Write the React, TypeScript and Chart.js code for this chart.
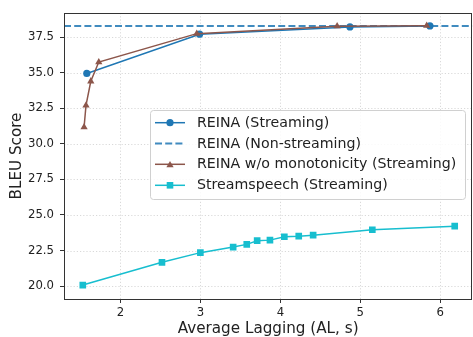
import React, { useEffect, useRef } from "react";
import { Chart, registerables } from "chart.js";

Chart.register(...registerables);

// ---- data ----
const X_TICKS = [2, 3, 4, 5, 6];
const Y_TICKS = [20, 22.5, 25, 27.5, 30, 32.5, 35, 37.5];
const X_MIN = 1.295;
const X_MAX = 6.4;
const Y_MIN = 19.09;
const Y_MAX = 39.2;

const REINA_AL = [1.58, 2.99, 4.87, 5.87];
const REINA_BLEU = [34.95, 37.71, 38.22, 38.29];

const NONSTREAM_BLEU = 38.29;

const NOMONO_AL = [1.546, 1.57, 1.63, 1.73, 2.955, 4.71, 5.83];
const NOMONO_BLEU = [31.17, 32.7, 34.4, 35.75, 37.75, 38.27, 38.31];

const STREAM_AL = [1.53, 2.52, 3.0, 3.41, 3.58, 3.71, 3.87, 4.05, 4.23, 4.41, 5.15, 6.18];
const STREAM_BLEU = [20.07, 21.67, 22.35, 22.74, 22.93, 23.19, 23.23, 23.47, 23.51, 23.58, 23.96, 24.21];

const LABELS = [
  "REINA (Streaming)",
  "REINA (Non-streaming)",
  "REINA w/o monotonicity (Streaming)",
  "Streamspeech (Streaming)",
];
const X_TITLE = "Average Lagging (AL, s)";
const Y_TITLE = "BLEU Score";

const BLUE = "#1f77b4";
const DASH_BLUE = "rgba(31,119,180,0.85)";
const BROWN = "#8c564b";
const CYAN = "#17becf";
const FONT = "'DejaVu Sans', sans-serif";
const TEXT = "#222222";

const zip = (xs: number[], ys: number[]) => xs.map((x, i) => ({ x, y: ys[i] }));

function drawMarker(ctx: CanvasRenderingContext2D, kind: string, x: number, y: number, color: string) {
  ctx.save();
  ctx.fillStyle = color;
  ctx.beginPath();
  if (kind === "circle") {
    ctx.arc(x, y, 3.6, 0, Math.PI * 2);
  } else if (kind === "rect") {
    ctx.rect(x - 3.3, y - 3.3, 6.6, 6.6);
  } else if (kind === "triangle") {
    const r = 4.2;
    for (let k = 0; k < 3; k++) {
      const a = (k * 2 * Math.PI) / 3;
      const px = x + Math.sin(a) * r;
      const py = y - Math.cos(a) * r + 0.8;
      if (k === 0) ctx.moveTo(px, py);
      else ctx.lineTo(px, py);
    }
    ctx.closePath();
  }
  ctx.fill();
  ctx.restore();
}

const decorPlugin = {
  id: "decor",
  beforeDatasetsDraw(chart: any) {
    const { ctx, chartArea, scales } = chart;
    const { left, right, top, bottom } = chartArea;
    ctx.save();
    ctx.strokeStyle = "#cfcfcf";
    ctx.lineWidth = 0.8;
    ctx.setLineDash([1.2, 2]);
    X_TICKS.forEach((v) => {
      const px = Math.round(scales.x.getPixelForValue(v)) + 0.5;
      ctx.beginPath();
      ctx.moveTo(px, top);
      ctx.lineTo(px, bottom);
      ctx.stroke();
    });
    Y_TICKS.forEach((v) => {
      const py = Math.round(scales.y.getPixelForValue(v)) + 0.5;
      ctx.beginPath();
      ctx.moveTo(left, py);
      ctx.lineTo(right, py);
      ctx.stroke();
    });
    ctx.restore();
  },
  afterDraw(chart: any) {
    const { ctx, chartArea } = chart;
    const { left, right, top, bottom } = chartArea;
    ctx.save();
    // frame
    ctx.strokeStyle = "#333333";
    ctx.lineWidth = 1;
    ctx.setLineDash([]);
    ctx.strokeRect(Math.round(left) + 0.5, Math.round(top) + 0.5, Math.round(right - left) - 1, Math.round(bottom - top));

    // axis titles
    ctx.fillStyle = TEXT;
    ctx.font = `15.2px ${FONT}`;
    ctx.textAlign = "center";
    ctx.textBaseline = "alphabetic";
    ctx.fillText(X_TITLE, (left + right) / 2, 332.7);
    ctx.save();
    ctx.translate(20.5, (top + bottom) / 2);
    ctx.rotate(-Math.PI / 2);
    ctx.fillText(Y_TITLE, 0, 0);
    ctx.restore();

    // legend
    const bx = 150.5, by = 110.5, bw = 315, bh = 89;
    ctx.beginPath();
    (ctx as any).roundRect(bx, by, bw, bh, 3);
    ctx.fillStyle = "rgba(255,255,255,0.85)";
    ctx.fill();
    ctx.strokeStyle = "#d0d0d0";
    ctx.lineWidth = 1;
    ctx.stroke();

    const items = [
      { color: BLUE, marker: "circle", dash: false },
      { color: DASH_BLUE, marker: "", dash: true },
      { color: BROWN, marker: "triangle", dash: false },
      { color: CYAN, marker: "rect", dash: false },
    ];
    const rowY = [122.7, 143.5, 164.3, 185.3];
    items.forEach((it, i) => {
      const y = rowY[i];
      ctx.save();
      ctx.strokeStyle = it.color;
      ctx.lineWidth = it.dash ? 2 : 1.5;
      ctx.setLineDash(it.dash ? [7, 3.2] : []);
      ctx.beginPath();
      ctx.moveTo(155, y);
      ctx.lineTo(185, y);
      ctx.stroke();
      ctx.restore();
      if (it.marker) drawMarker(ctx, it.marker, 170, y, it.color);
      ctx.fillStyle = TEXT;
      ctx.font = `14.2px ${FONT}`;
      ctx.textAlign = "left";
      ctx.textBaseline = "middle";
      ctx.fillText(LABELS[i], 197, y + 0.5);
    });
    ctx.restore();
  },
};

export default function App() {
  const ref = useRef<HTMLCanvasElement | null>(null);
  useEffect(() => {
    if (!ref.current) return;
    const chart = new Chart(ref.current, {
      type: "line",
      data: {
        datasets: [
          {
            label: LABELS[0],
            data: zip(REINA_AL, REINA_BLEU),
            borderColor: BLUE,
            backgroundColor: BLUE,
            borderWidth: 1.5,
            pointStyle: "circle",
            pointRadius: 3.6,
            pointBorderWidth: 0,
            order: 3,
          },
          {
            label: LABELS[1],
            data: [
              { x: X_MIN, y: NONSTREAM_BLEU },
              { x: X_MAX, y: NONSTREAM_BLEU },
            ],
            borderColor: DASH_BLUE,
            borderWidth: 2,
            borderDash: [7, 3.2],
            pointRadius: 0,
            order: 2,
          },
          {
            label: LABELS[2],
            data: zip(NOMONO_AL, NOMONO_BLEU),
            borderColor: BROWN,
            backgroundColor: BROWN,
            borderWidth: 1.5,
            pointStyle: "triangle",
            pointRadius: 4.2,
            pointBorderWidth: 0,
            order: 1,
          },
          {
            label: LABELS[3],
            data: zip(STREAM_AL, STREAM_BLEU),
            borderColor: CYAN,
            backgroundColor: CYAN,
            borderWidth: 1.5,
            pointStyle: "rect",
            pointRadius: 4.7,
            pointBorderWidth: 0,
            order: 0,
          },
        ],
      },
      options: {
        responsive: false,
        animation: false,
        devicePixelRatio: 1,
        layout: { padding: { top: 11, right: 1.3, left: 0, bottom: 0 } },
        plugins: { legend: { display: false }, tooltip: { enabled: false } },
        elements: { line: { tension: 0 } },
        scales: {
          x: {
            type: "linear",
            min: X_MIN,
            max: X_MAX,
            afterBuildTicks: (s: any) => {
              s.ticks = X_TICKS.map((v) => ({ value: v }));
            },
            afterFit: (s: any) => {
              s.height = 38;
            },
            grid: { drawOnChartArea: false, drawTicks: true, tickLength: 4, tickColor: "#333333" },
            border: { display: false },
            ticks: {
              color: TEXT,
              font: { family: FONT, size: 11.7 },
              padding: 3,
              maxRotation: 0,
              autoSkip: false,
              callback: (v: any) => String(v),
            },
          },
          y: {
            type: "linear",
            min: Y_MIN,
            max: Y_MAX,
            afterBuildTicks: (s: any) => {
              s.ticks = Y_TICKS.map((v) => ({ value: v }));
            },
            afterFit: (s: any) => {
              s.width = 64;
            },
            grid: { drawOnChartArea: false, drawTicks: true, tickLength: 4, tickColor: "#333333" },
            border: { display: false },
            ticks: {
              color: TEXT,
              font: { family: FONT, size: 11.7 },
              padding: 6,
              autoSkip: false,
              callback: (v: any) => Number(v).toFixed(1),
            },
          },
        },
      },
      plugins: [decorPlugin],
    } as any);
    return () => chart.destroy();
  }, []);
  return (
    <div style={{ position: "fixed", left: 0, top: 0, width: 473, height: 337, overflow: "hidden", background: "#fff" }}>
      <canvas ref={ref} width={477} height={337} style={{ display: "block" }} />
    </div>
  );
}
